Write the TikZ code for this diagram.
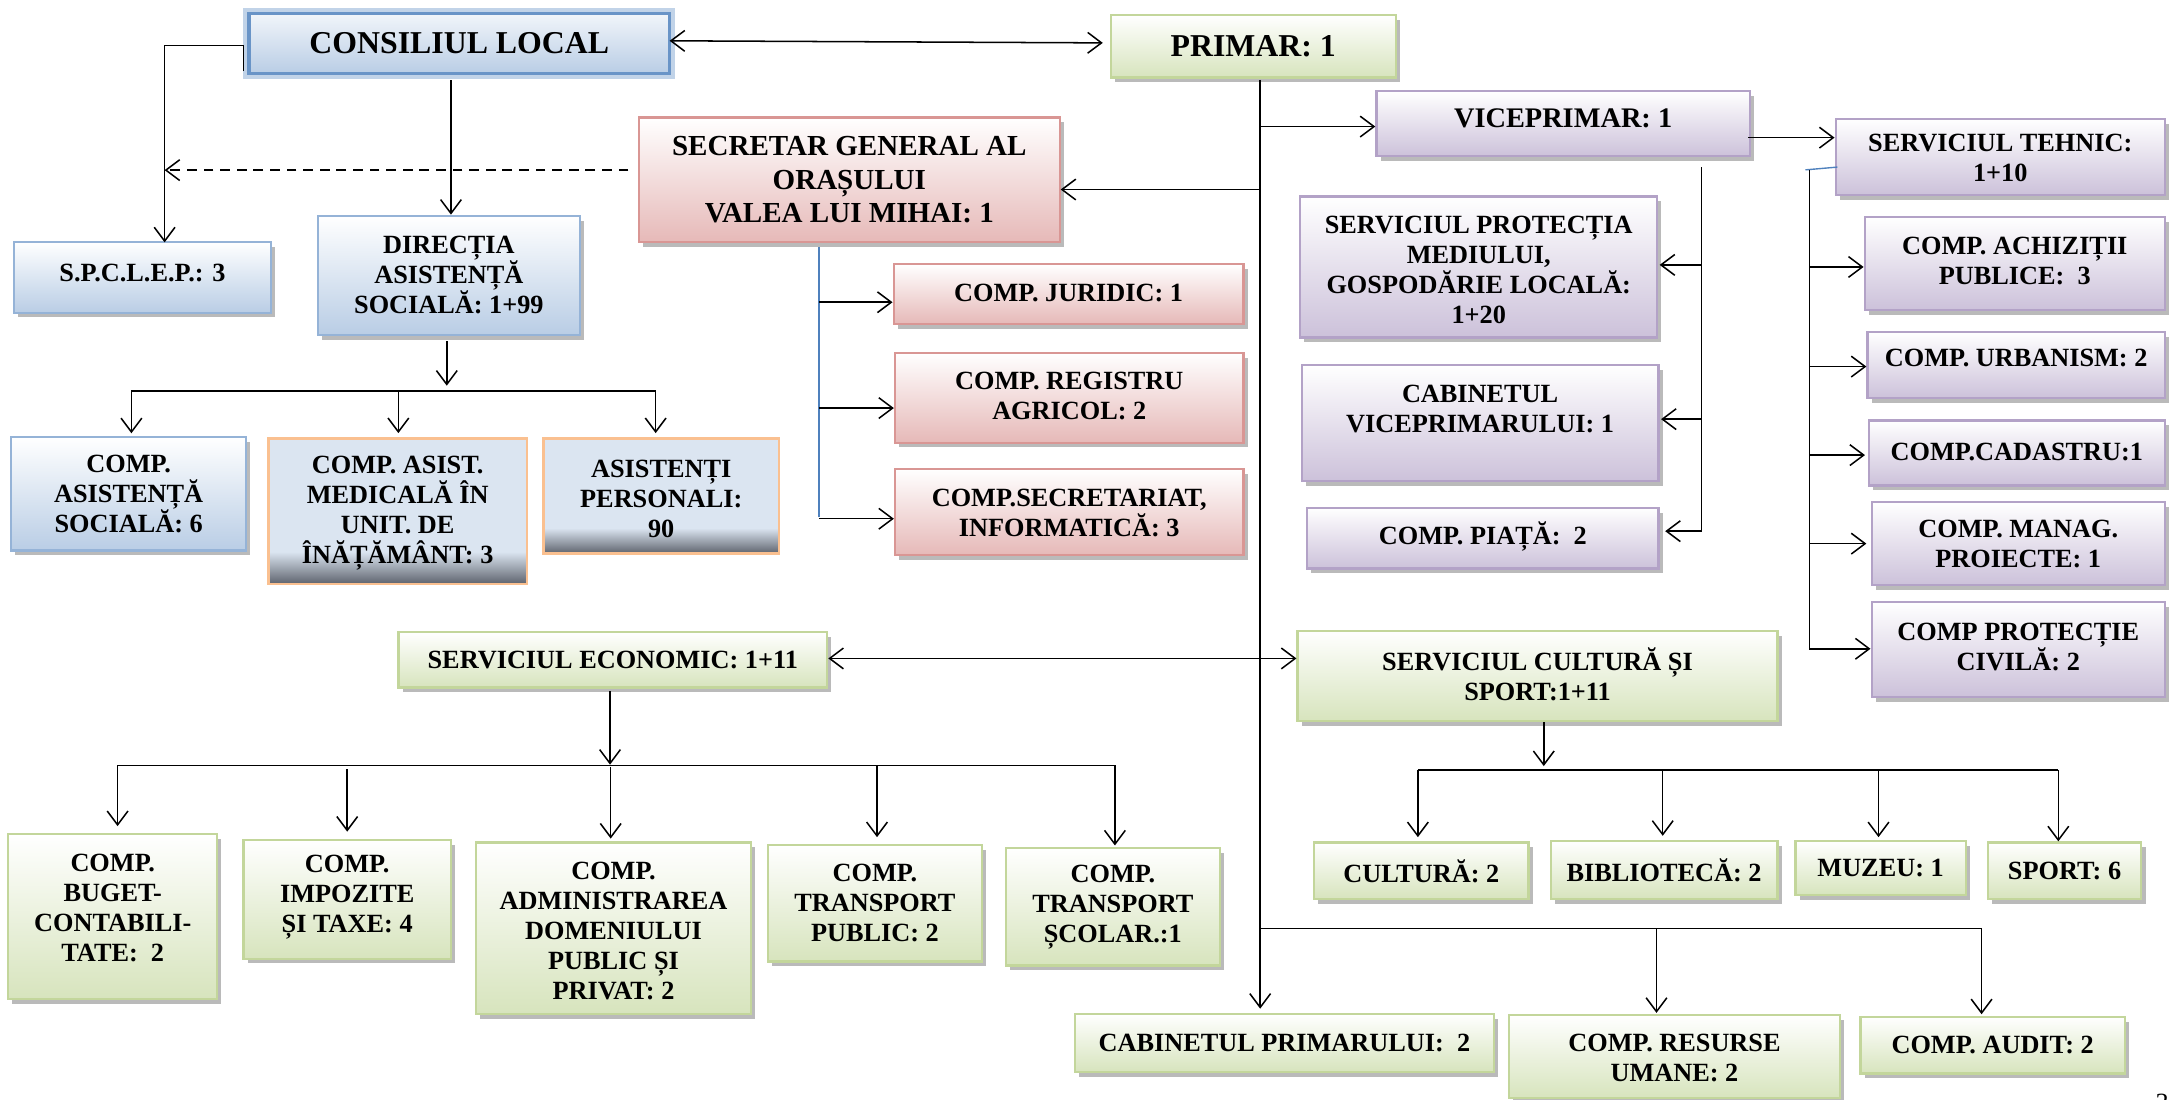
\documentclass[tikz,border=0pt]{standalone}
\usepackage{fontspec}
\setmainfont{Liberation Serif}
\usetikzlibrary{arrows.meta,calc,shadows}
\definecolor{bluef}{RGB}{185,205,229}
\definecolor{blueb}{RGB}{149,179,215}
\definecolor{bluedk}{RGB}{79,129,189}
\definecolor{greenf}{RGB}{215,228,189}
\definecolor{greenb}{RGB}{195,214,155}
\definecolor{purpf}{RGB}{204,193,218}
\definecolor{purpb}{RGB}{179,162,199}
\definecolor{redf}{RGB}{230,185,184}
\definecolor{redb}{RGB}{217,150,148}
\definecolor{spl}{RGB}{219,229,241}
\definecolor{spd}{RGB}{95,100,110}
\definecolor{orb}{RGB}{250,192,144}
\pgfdeclareverticalshading{spsh}{100bp}{color(0bp)=(spd); color(25bp)=(spd); color(36bp)=(spl); color(100bp)=(spl)}
\tikzset{
  barb/.tip={Straight Barb[length=10pt,width=15pt]},
  conn/.style={line width=1.1pt, black},
  arr/.style={conn, -barb},
  darr/.style={conn, barb-barb},
  bline/.style={line width=1pt, color=bluedk},
  shbox/.style={rectangle, line width=1.6pt, drop shadow={shadow xshift=3pt, shadow yshift=-3.5pt, fill=black!45, opacity=0.6}},
  bluebx/.style={shbox, draw=blueb, top color=white, bottom color=bluef},
  clbx/.style={rectangle, draw=bluedk!85, line width=2.2pt, top color=white!80!bluef, bottom color=bluef, preaction={draw=bluedk!35, line width=8pt}},
  grnbx/.style={shbox, draw=greenb, top color=white, bottom color=greenf},
  purbx/.style={shbox, draw=purpb, top color=white, bottom color=purpf},
  redbx/.style={shbox, draw=redb, top color=white, bottom color=redf},
  spbx/.style={rectangle, draw=orb, line width=1.8pt, shading=spsh},
  txt/.style={align=center, inner sep=0pt, text=black},
  f19/.style={font=\bfseries\fontsize{19}{21.7}\selectfont},
  f20/.style={font=\bfseries\fontsize{20.5}{23}\selectfont},
  f21/.style={font=\bfseries\fontsize{21}{24.3}\selectfont},
  f23/.style={font=\bfseries\fontsize{23}{26}\selectfont},
}
\newcommand{\orgbox}[9]{%
  \node[#1, minimum width=#5pt, minimum height=#6pt] (#2) at (#3,#4) {};
  \node[txt, #8] (#2-t) at ($(#2)+(0,#7)$) {#9};}
\begin{document}
\begin{tikzpicture}[x=1pt,y=-1pt]
\useasboundingbox (0,0) rectangle (1568,794.5);
% ---- boxes
\orgbox{clbx}{cl}{332}{31.5}{304}{43}{0}{f23}{CONSILIUL LOCAL}
\orgbox{grnbx}{primar}{906}{33.5}{206}{45}{0}{f23}{PRIMAR: 1}
\orgbox{purbx}{vice}{1130}{89.5}{270}{47}{-4}{f20}{VICEPRIMAR: 1}
\orgbox{purbx}{tehnic}{1446}{113.5}{238}{55}{1}{f19}{SERVICIUL TEHNIC:\\1+10}
\orgbox{redbx}{sec}{614}{130}{304}{90}{0}{f21}{SECRETAR GENERAL AL\\ORAȘULUI\\VALEA LUI MIHAI: 1}
\orgbox{bluebx}{spclep}{103}{200.5}{186}{51}{-3}{f19}{S.P.C.L.E.P.: 3}
\orgbox{bluebx}{dir}{324.5}{199}{189}{86}{0}{f19}{DIRECȚIA\\ASISTENȚĂ\\SOCIALĂ: 1+99}
\orgbox{bluebx}{cas}{93}{357}{170}{82}{0}{f19}{COMP.\\ASISTENȚĂ\\SOCIALĂ: 6}
\orgbox{spbx}{cam}{287.5}{369.5}{187}{105}{1.5}{f19}{COMP. ASIST.\\MEDICALĂ ÎN\\UNIT. DE\\ÎNĂȚĂMÂNT: 3}
\orgbox{spbx}{ap}{478}{358.5}{170}{83}{2}{f19}{ASISTENȚI\\PERSONALI:\\90}
\orgbox{redbx}{jur}{772.5}{212.5}{253}{43}{-1}{f19}{COMP. JURIDIC: 1}
\orgbox{redbx}{reg}{773}{287.5}{252}{65}{-1}{f19}{COMP. REGISTRU\\AGRICOL: 2}
\orgbox{redbx}{secr}{773}{370}{252}{62}{1}{f19}{COMP.SECRETARIAT,\\INFORMATICĂ: 3}
\orgbox{purbx}{prot}{1069}{193}{258}{102}{2}{f19}{SERVICIUL PROTECȚIA\\MEDIULUI,\\GOSPODĂRIE LOCALĂ:\\1+20}
\orgbox{purbx}{cabv}{1070}{306}{258}{84}{-10}{f19}{CABINETUL\\VICEPRIMARULUI: 1}
\orgbox{purbx}{piata}{1072}{389}{254}{44}{-1}{f19}{COMP. PIAȚĂ:\ \ 2}
\orgbox{purbx}{ach}{1456.5}{190.5}{217}{67}{-2}{f19}{COMP. ACHIZIȚII\\PUBLICE:\ \ 3}
\orgbox{purbx}{urb}{1457.5}{264}{215}{48}{-5}{f19}{COMP. URBANISM: 2}
\orgbox{purbx}{cad}{1458}{327.5}{214}{47}{-1}{f19}{COMP.CADASTRU:1}
\orgbox{purbx}{man}{1459}{393}{212}{60}{0}{f19}{COMP. MANAG.\\PROIECTE: 1}
\orgbox{purbx}{civ}{1459}{469.5}{212}{69}{-2}{f19}{COMP PROTECȚIE\\CIVILĂ: 2}
\orgbox{grnbx}{eco}{443}{477}{310}{40}{0}{f19}{SERVICIUL ECONOMIC: 1+11}
\orgbox{grnbx}{cs}{1111.5}{488.5}{347}{65}{-1}{f19}{SERVICIUL CULTURĂ ȘI\\SPORT:1+11}
\orgbox{grnbx}{bug}{81.5}{662.5}{151}{119}{-6}{f19}{COMP.\\BUGET-\\CONTABILI-\\TATE:\ \ 2}
\orgbox{grnbx}{imp}{251}{650}{150}{86}{-1.5}{f19}{COMP.\\IMPOZITE\\ȘI TAXE: 4}
\orgbox{grnbx}{adm}{443.5}{671}{199}{124}{2}{f19}{COMP.\\ADMINISTRAREA\\DOMENIULUI\\PUBLIC ȘI\\PRIVAT: 2}
\orgbox{grnbx}{tp}{632.5}{653}{155}{84}{0}{f19}{COMP.\\TRANSPORT\\PUBLIC: 2}
\orgbox{grnbx}{ts}{804.5}{655.5}{155}{85}{0}{f19}{COMP.\\TRANSPORT\\ȘCOLAR.:1}
\orgbox{grnbx}{cult}{1027.5}{629.5}{155}{41}{0}{f19}{CULTURĂ: 2}
\orgbox{grnbx}{bib}{1203}{629}{164}{42}{0}{f19}{BIBLIOTECĂ: 2}
\orgbox{grnbx}{muz}{1359.5}{627.5}{123}{39}{0}{f19}{MUZEU: 1}
\orgbox{grnbx}{sp}{1492.5}{629.5}{111}{41}{0}{f19}{SPORT: 6}
\orgbox{grnbx}{cabp}{928.5}{754}{303}{42}{0}{f19}{CABINETUL PRIMARULUI:\ \ 2}
\orgbox{grnbx}{ru}{1210.5}{764}{239}{60}{1}{f19}{COMP. RESURSE\\UMANE: 2}
\orgbox{grnbx}{aud}{1440.5}{755.5}{191}{41}{0}{f19}{COMP. AUDIT: 2}
\node[txt, font=\fontsize{19}{22}\selectfont] (pg) at (1563,797) {3};
% ---- connectors: consiliul
\coordinate (vl) at ($(spclep.north)+(16,1)$);
\draw[arr] ($(cl.west)+(-3,20)$) -- ($(cl.west)+(-3,1.5)$) -| (vl);
\draw[arr, dash pattern=on 7pt off 5pt] ($(sec.west)+(-7,-7)$) -- ($(vl |- sec.west)+(0,-7)$);
\draw[arr] ($(dir.north |- cl.south)+(1.5,4)$) -- ($(dir.north)+(1.5,0)$);
\draw[arr] ($(dir.south)+(-1.5,4)$) -- ($(dir.south)+(-1.5,36)$);
\coordinate (dbus) at ($(dir.south)+(-1.5,40)$);
\draw[conn] ($(dbus -| cas.north)+(2,0)$) -- ($(dbus -| ap.north)+(-4,0)$);
\draw[arr] ($(dbus -| cas.north)+(2,0)$) -- ($(cas.north)+(2,-2)$);
\draw[arr] ($(dbus -| cam.north)+(0.5,0)$) -- ($(cam.north)+(0.5,-3)$);
\draw[arr] ($(dbus -| ap.north)+(-4,0)$) -- ($(ap.north)+(-4,-3)$);
% ---- primar
\draw[darr] ($(cl.east)+(-1,-2)$) -- ($(primar.west)+(-5,-2.5)$);
\coordinate (tr) at ($(primar.south)+(5,1)$);
\draw[arr] (tr) -- ($(tr |- cabp.north)+(0,-3)$);
\draw[arr] ($(tr |- vice.west)+(0,2)$) -- ($(vice.west)+(0,2)$);
\draw[arr] ($(tr |- sec.east)+(0,7)$) -- ($(sec.east)+(0,7)$);
\draw[darr] ($(eco.east)+(0,-1)$) -- ($(eco.east -| cs.west)+(0,-1)$);
\coordinate (pbus) at ($(tr |- cabp.north)+(0,-61)$);
\draw[arr] (pbus) -| ($(aud.north)+(-8,-1)$);
\draw[arr] ($(pbus -| ru.north)+(-13,0)$) -- ($(ru.north)+(-13,-1)$);
% ---- secretar
\coordinate (sv) at ($(sec.south)+(-22,3)$);
\draw[bline] (sv) -- ($(sv |- secr.west)+(0,4)$);
\draw[arr] ($(sv |- jur.west)+(0,6)$) -- ($(jur.west)+(0,6)$);
\draw[arr] ($(sv |- reg.west)+(0,7.5)$) -- ($(reg.west)+(0,7.5)$);
\draw[arr] ($(sv |- secr.west)+(0,5)$) -- ($(secr.west)+(0,5)$);
% ---- viceprimar
\draw[arr] ($(vice.east)+(-2,10)$) -- ($(vice.east -| tehnic.west)+(0,10)$);
\coordinate (vv) at ($(vice.south)+(100,7)$);
\draw[arr] (vv) |- ($(piata.east)+(4,-5)$);
\draw[arr] ($(vv |- prot.east)+(0,-1.5)$) -- ($(prot.east)+(1,-1.5)$);
\draw[arr] ($(vv |- cabv.east)+(0,-3)$) -- ($(cabv.east)+(1,-3)$);
% ---- tehnic
\coordinate (tv) at ($(tehnic.south west)+(-18,-19)$);
\draw[bline] ($(tehnic.south west)+(2,-21)$) -- ($(tv)+(-3,0)$);
\draw[arr] (tv) |- ($(civ.west)+(0,-0.5)$);
\draw[arr] ($(tv |- ach.west)+(0,2.5)$) -- ($(ach.west)+(0,2.5)$);
\draw[arr] ($(tv |- urb.west)+(0,1)$) -- ($(urb.west)+(0,1)$);
\draw[arr] ($(tv |- cad.west)+(0,1.5)$) -- ($(cad.west)+(-2,1.5)$);
\draw[arr] (tv |- man.west) -- ($(man.west)+(-3,0)$);
% ---- economic
\draw[arr] ($(eco.south)+(-2,2)$) -- ($(eco.south)+(-2,55)$);
\coordinate (ebus) at ($(eco.south)+(-2,55.5)$);
\draw[conn] ($(ebus -| bug.north)+(3.5,0)$) -- ($(ebus -| ts.north)+(1.5,0)$);
\draw[arr] ($(ebus -| bug.north)+(3.5,0)$) -- ($(bug.north)+(3.5,-5)$);
\draw[arr] ($(imp.north)+(0,-50)$) -- ($(imp.north)+(0,-5)$);
\draw[arr] ($(ebus -| adm.north)+(-2,1)$) -- ($(adm.north)+(-2,-2)$);
\draw[arr] ($(ebus -| tp.north)+(1.5,0)$) -- ($(tp.north)+(1.5,-5)$);
\draw[arr] ($(ebus -| ts.north)+(1.5,0)$) -- ($(ts.north)+(1.5,-1)$);
% ---- cultura
\draw[arr] ($(cs.south)+(4.5,0)$) -- ($(cs.south)+(4.5,32)$);
\coordinate (cbus) at ($(cs.south)+(4.5,35)$);
\draw[conn] ($(cbus -| cult.north)+(-2.5,0)$) -- ($(cbus -| sp.north)+(-4.5,0)$);
\draw[arr] ($(cbus -| cult.north)+(-2.5,0)$) -- ($(cult.north)+(-2.5,-3)$);
\draw[arr] ($(cbus -| bib.north)+(-1,0)$) -- ($(bib.north)+(-1,-3)$);
\draw[arr] ($(cbus -| muz.north)+(-1.5,0)$) -- ($(muz.north)+(-1.5,-2)$);
\draw[arr] ($(cbus -| sp.north)+(-4.5,0)$) -- ($(sp.north)+(-4.5,0)$);
\end{tikzpicture}
\end{document}
